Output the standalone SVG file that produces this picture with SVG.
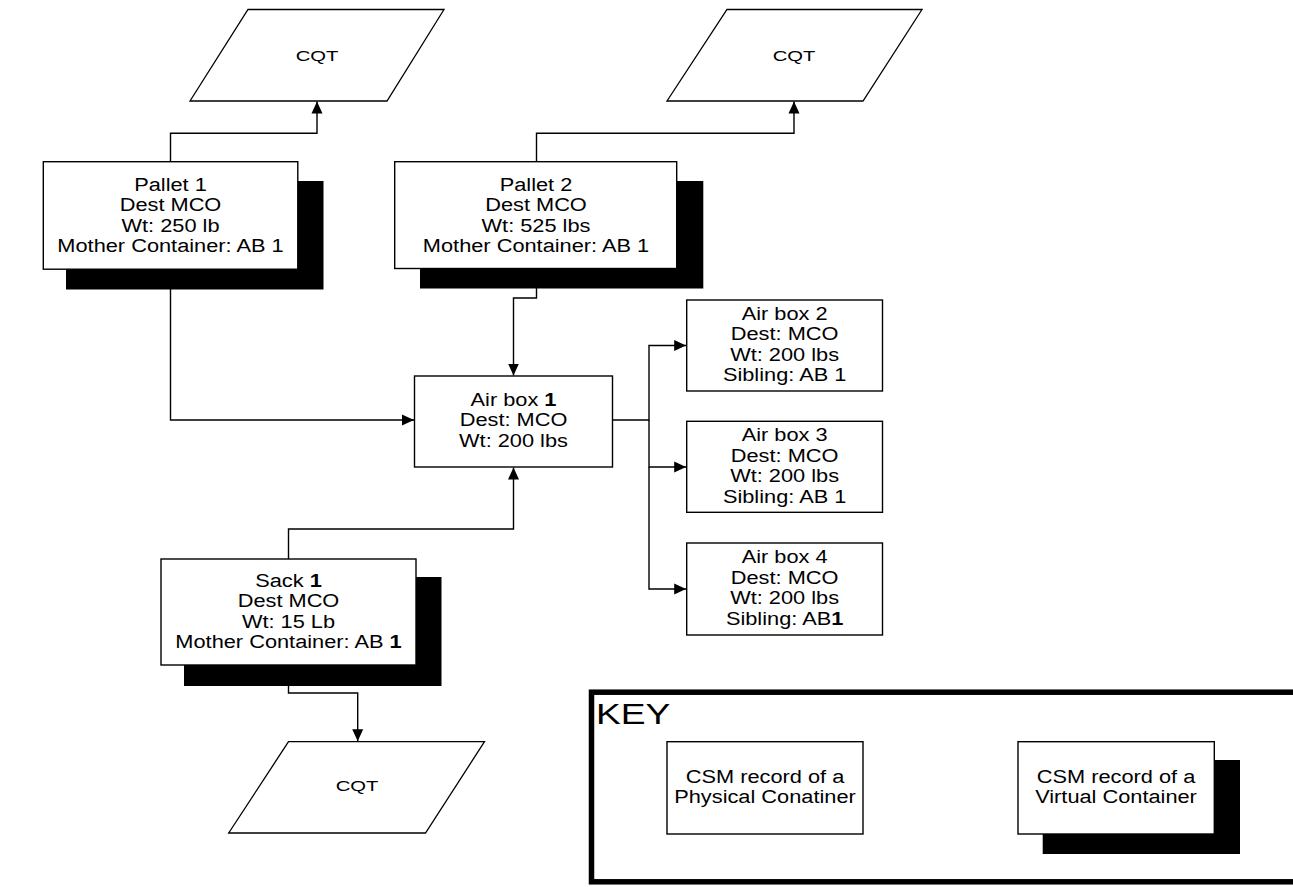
<svg xmlns="http://www.w3.org/2000/svg" width="1293" height="887" viewBox="0 0 1293 887">
<defs>
<style>
.bg{fill:#ffffff}
.box{fill:#ffffff;stroke:#000;stroke-width:1.4}
.shadow{fill:#000}
.io{fill:#ffffff;stroke:#000;stroke-width:1.3}
.t{font-family:"Liberation Sans",Arial,sans-serif;font-size:18px;text-anchor:middle;fill:#000}
.cqt{font-family:"Liberation Sans",Arial,sans-serif;font-size:15px;text-anchor:middle;fill:#000}
.b{font-weight:bold}
.conn{fill:none;stroke:#000;stroke-width:1.4}
.key{fill:none;stroke:#000;stroke-width:5.5}
.keyt{font-family:"Liberation Sans",Arial,sans-serif;font-size:30px;fill:#000}
</style>
<marker id="arr" viewBox="0 0 12 12" refX="12" refY="6" markerWidth="12" markerHeight="12" markerUnits="userSpaceOnUse" orient="auto">
<path d="M0,0.5 L12,6 L0,11.5 z" fill="#000"/>
</marker>
</defs>
<rect class="bg" x="0" y="0" width="1293" height="887"/>

<g id="cqt1">
<polygon class="io" points="248,9.5 444,9.5 387,101 190,101"/>
<g transform="translate(317,0) scale(1.35,1)"><text class="cqt" x="0" y="61">CQT</text></g>
</g>
<g id="cqt2">
<polygon class="io" points="727,9.5 922,9.5 863,101 667,101"/>
<g transform="translate(794,0) scale(1.35,1)"><text class="cqt" x="0" y="61">CQT</text></g>
</g>
<g id="cqt3">
<polygon class="io" points="288.5,741.7 484.5,741.7 425.5,833 228.7,833"/>
<g transform="translate(357,0) scale(1.35,1)"><text class="cqt" x="0" y="791.5">CQT</text></g>
</g>

<g id="pallet1">
<rect class="shadow" x="66" y="181" width="257.5" height="108.5"/>
<rect class="box" x="43.3" y="161.7" width="254.5" height="107.5"/>
<g transform="translate(170.5,0) scale(1.21,1)"><text class="t"><tspan x="0" y="191">Pallet 1</tspan><tspan x="0" y="211.3">Dest MCO</tspan><tspan x="0" y="231.6">Wt: 250 lb</tspan><tspan x="0" y="252">Mother Container: AB 1</tspan></text></g>
</g>

<g id="pallet2">
<rect class="shadow" x="420" y="181" width="283.3" height="107.5"/>
<rect class="box" x="394.7" y="161.7" width="282" height="106.8"/>
<g transform="translate(536,0) scale(1.21,1)"><text class="t"><tspan x="0" y="191">Pallet 2</tspan><tspan x="0" y="211.3">Dest MCO</tspan><tspan x="0" y="231.6">Wt: 525 lbs</tspan><tspan x="0" y="252">Mother Container: AB 1</tspan></text></g>
</g>

<g id="airbox1">
<rect class="box" x="414.5" y="376" width="198" height="91"/>
<g transform="translate(513.5,0) scale(1.21,1)"><text class="t"><tspan x="0" y="406">Air box <tspan class="b">1</tspan></tspan><tspan x="0" y="426.5">Dest: MCO</tspan><tspan x="0" y="447">Wt: 200 lbs</tspan></text></g>
</g>

<g id="airbox2">
<rect class="box" x="686.7" y="300" width="195.8" height="91"/>
<g transform="translate(784.6,0) scale(1.21,1)"><text class="t"><tspan x="0" y="320">Air box 2</tspan><tspan x="0" y="340.5">Dest: MCO</tspan><tspan x="0" y="361">Wt: 200 lbs</tspan><tspan x="0" y="381.5">Sibling: AB 1</tspan></text></g>
</g>

<g id="airbox3">
<rect class="box" x="686.7" y="421.3" width="195.8" height="91"/>
<g transform="translate(784.6,0) scale(1.21,1)"><text class="t"><tspan x="0" y="441.5">Air box 3</tspan><tspan x="0" y="462">Dest: MCO</tspan><tspan x="0" y="482.5">Wt: 200 lbs</tspan><tspan x="0" y="503">Sibling: AB 1</tspan></text></g>
</g>

<g id="airbox4">
<rect class="box" x="686.7" y="543" width="195.8" height="92"/>
<g transform="translate(784.6,0) scale(1.21,1)"><text class="t"><tspan x="0" y="563.3">Air box 4</tspan><tspan x="0" y="583.8">Dest: MCO</tspan><tspan x="0" y="604.3">Wt: 200 lbs</tspan><tspan x="0" y="624.8">Sibling: AB<tspan class="b">1</tspan></tspan></text></g>
</g>

<g id="sack1">
<rect class="shadow" x="184" y="577" width="257.5" height="109"/>
<rect class="box" x="161" y="559" width="255" height="106"/>
<g transform="translate(288.5,0) scale(1.21,1)"><text class="t"><tspan x="0" y="587">Sack <tspan class="b">1</tspan></tspan><tspan x="0" y="607.5">Dest MCO</tspan><tspan x="0" y="628">Wt: 15 Lb</tspan><tspan x="0" y="648.5">Mother Container: AB <tspan class="b">1</tspan></tspan></text></g>
</g>

<g id="connectors">
<path class="conn" d="M170.5,161.7 V133.3 H317 V101.5" marker-end="url(#arr)"/>
<path class="conn" d="M536.5,161.7 V133.3 H794 V101.5" marker-end="url(#arr)"/>
<path class="conn" d="M170.5,269 V420 H414" marker-end="url(#arr)"/>
<path class="conn" d="M536.5,268.5 V298 H513.5 V375.5" marker-end="url(#arr)"/>
<path class="conn" d="M288.5,559 V529 H513.5 V467.5" marker-end="url(#arr)"/>
<path class="conn" d="M612.5,420 H649 V345.5 H686.2" marker-end="url(#arr)"/>
<path class="conn" d="M649,420 V467 H686.2" marker-end="url(#arr)"/>
<path class="conn" d="M649,467 V589 H686.2" marker-end="url(#arr)"/>
<path class="conn" d="M288.5,665 V693 H357.7 V741.2" marker-end="url(#arr)"/>
</g>

<g id="key">
<rect class="key" x="591.5" y="692.2" width="720" height="189.6"/>
<g transform="translate(596,0) scale(1.24,1)"><text class="keyt" x="0" y="724">KEY</text></g>
<g id="key-physical">
<rect class="box" x="667" y="741.7" width="196" height="92.3"/>
<g transform="translate(765,0) scale(1.21,1)"><text class="t"><tspan x="0" y="782.7">CSM record of a</tspan><tspan x="0" y="803.3">Physical Conatiner</tspan></text></g>
</g>
<g id="key-virtual">
<rect class="shadow" x="1042.7" y="760" width="197.3" height="94"/>
<rect class="box" x="1018" y="741.7" width="196.3" height="92.3"/>
<g transform="translate(1116,0) scale(1.21,1)"><text class="t"><tspan x="0" y="782.7">CSM record of a</tspan><tspan x="0" y="803.3">Virtual Container</tspan></text></g>
</g>
</g>
</svg>
